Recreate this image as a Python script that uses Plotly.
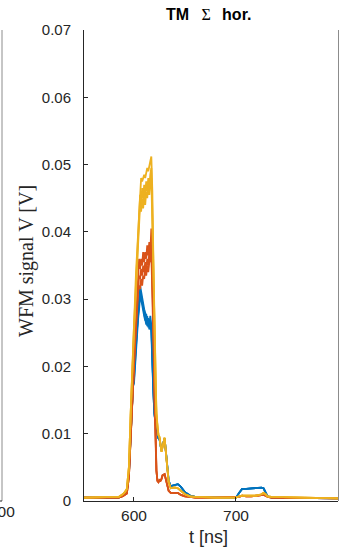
import plotly.graph_objects as go

# time axes (ns)
t_pre = [551, 570, 585, 589, 591, 593, 595, 597, 599]
t_peak = [600, 601, 602, 603, 604, 605, 606, 607, 608, 609, 610, 611, 612, 613, 614, 615, 616, 617, 618]
t_post = [619, 620, 621, 622, 623, 624, 625, 626, 627, 628, 630, 632, 634, 636, 640, 643, 646, 650, 655, 660,
          680, 700, 703, 706, 710, 715, 720, 725, 727, 729, 731, 735, 760, 800]

# blue series (V)
blue_pre = [0.0005, 0.0005, 0.0005, 0.0008, 0.0011, 0.0015, 0.0040, 0.0115, 0.0170]
blue_peak_1 = [0.019, 0.0215, 0.024, 0.026, 0.028, 0.030, 0.032, 0.031, 0.030, 0.0292, 0.0285, 0.028, 0.027, 0.0265, 0.027, 0.026, 0.0275, 0.026, 0.021]
blue_peak_2 = [0.018, 0.021, 0.0235, 0.0255, 0.0275, 0.029, 0.0312, 0.0305, 0.0295, 0.0288, 0.028, 0.0272, 0.0262, 0.0275, 0.0258, 0.027, 0.0255, 0.0265, 0.019]
blue_peak_3 = [0.0175, 0.020, 0.023, 0.025, 0.027, 0.0285, 0.0305, 0.030, 0.029, 0.0282, 0.0275, 0.0268, 0.0278, 0.026, 0.0272, 0.0255, 0.0268, 0.025, 0.018]
blue_post = [0.016, 0.013, 0.0115, 0.0105, 0.0098, 0.0093, 0.0092, 0.0082, 0.0075, 0.0082, 0.0093, 0.0062, 0.0030, 0.0022,
             0.0024, 0.0025, 0.0021, 0.0013, 0.0008, 0.0006, 0.0005, 0.0005, 0.0012, 0.0018, 0.0018, 0.0019, 0.0019,
             0.0020, 0.0019, 0.0013, 0.0007, 0.0005, 0.0005, 0.0004]

# orange series (V)
orange_pre = [0.0005, 0.0005, 0.0005, 0.0007, 0.0009, 0.0011, 0.0035, 0.0110, 0.0185]
orange_peak_1 = [0.021, 0.024, 0.027, 0.030, 0.033, 0.036, 0.0345, 0.036, 0.035, 0.037, 0.0355, 0.037, 0.036, 0.038, 0.0365, 0.0385, 0.037, 0.0405, 0.034]
orange_peak_2 = [0.0205, 0.0235, 0.0265, 0.0295, 0.032, 0.0335, 0.033, 0.0345, 0.0335, 0.035, 0.034, 0.0355, 0.0345, 0.036, 0.035, 0.037, 0.0355, 0.038, 0.032]
orange_peak_3 = [0.020, 0.023, 0.026, 0.029, 0.031, 0.032, 0.0315, 0.033, 0.032, 0.0335, 0.033, 0.0345, 0.0335, 0.035, 0.034, 0.0355, 0.036, 0.037, 0.030]
orange_post = [0.026, 0.015, 0.008, 0.0045, 0.0030, 0.0028, 0.0031, 0.0030, 0.0033, 0.0038, 0.0040, 0.0025, 0.0015, 0.0012,
               0.0012, 0.0012, 0.0009, 0.0007, 0.0006, 0.0005, 0.0005, 0.0005, 0.0006, 0.0008, 0.0007, 0.0007, 0.0008,
               0.0008, 0.0009, 0.0008, 0.0006, 0.0005, 0.0005, 0.0004]

# yellow series (V)
yellow_pre = [0.0005, 0.0005, 0.0006, 0.0010, 0.0013, 0.0018, 0.0050, 0.0140, 0.0235]
yellow_peak_1 = [0.027, 0.030, 0.034, 0.037, 0.040, 0.044, 0.047, 0.048, 0.0475, 0.048, 0.0485, 0.048, 0.049, 0.0495, 0.049, 0.050, 0.0505, 0.0512, 0.046]
yellow_peak_2 = [0.026, 0.029, 0.033, 0.036, 0.039, 0.0425, 0.0455, 0.044, 0.0465, 0.045, 0.047, 0.0455, 0.0475, 0.046, 0.048, 0.0465, 0.0485, 0.0495, 0.043]
yellow_peak_3 = [0.025, 0.028, 0.032, 0.035, 0.038, 0.041, 0.044, 0.043, 0.045, 0.0435, 0.0455, 0.044, 0.046, 0.045, 0.047, 0.0455, 0.0475, 0.048, 0.040]
yellow_post = [0.036, 0.024, 0.017, 0.013, 0.011, 0.0098, 0.0095, 0.0085, 0.0073, 0.0080, 0.0094, 0.0060, 0.0028, 0.0019,
               0.0020, 0.0019, 0.0015, 0.0010, 0.0007, 0.0006, 0.0005, 0.0005, 0.0007, 0.0008, 0.0008, 0.0008, 0.0008,
               0.0010, 0.0012, 0.0010, 0.0007, 0.0006, 0.0005, 0.0004]

x_ticks = [600, 700, 800]
y_ticks = [0, 0.01, 0.02, 0.03, 0.04, 0.05, 0.06, 0.07]
y_tick_labels = ["0", "0.01", "0.02", "0.03", "0.04", "0.05", "0.06", "0.07"]

BLUE, ORANGE, YELLOW = "#0072BD", "#D95319", "#EDB120"
AX = "#262626"

fig = go.Figure()
t_all = t_pre + t_peak + t_post
groups = [
    (BLUE, blue_pre, [blue_peak_1, blue_peak_2, blue_peak_3], blue_post),
    (ORANGE, orange_pre, [orange_peak_1, orange_peak_2, orange_peak_3], orange_post),
    (YELLOW, yellow_pre, [yellow_peak_1, yellow_peak_2, yellow_peak_3], yellow_post),
]
for color, pre, peaks, post in groups:
    for pk in peaks:
        fig.add_trace(go.Scatter(x=t_all, y=pre + pk + post, mode="lines",
                                 line=dict(color=color, width=1.8), showlegend=False,
                                 hoverinfo="skip"))

L, R, T, B = 84, 6, 30, 51
W, H = 344, 552
pw, ph = W - L - R, H - T - B


def px(x):
    return (x - L) / pw


def py(y):
    return (H - B - y) / ph


fig.update_layout(
    width=W, height=H,
    margin=dict(l=L, r=R, t=T, b=B, pad=0),
    paper_bgcolor="white", plot_bgcolor="white",
    font=dict(family="Liberation Sans, Arial, sans-serif", size=15, color=AX),
    xaxis=dict(range=[551, 800], tickvals=x_ticks, ticktext=[str(v) for v in x_ticks],
               ticks="inside", ticklen=4, tickcolor=AX, showline=True, linecolor=AX,
               linewidth=1, showgrid=False, zeroline=False, mirror=False,
               tickfont=dict(size=15.5, color=AX)),
    yaxis=dict(range=[0, 0.07], tickvals=y_ticks, ticktext=y_tick_labels,
               ticks="inside", ticklen=4, tickcolor=AX, showline=True, linecolor=AX,
               linewidth=1, showgrid=False, zeroline=False, mirror=False,
               ticklabelstandoff=9, tickfont=dict(size=15, color=AX)),
    shapes=[
        dict(type="line", xref="paper", yref="paper", x0=px(338.5), x1=px(338.5), y0=0, y1=1,
             line=dict(color="#8c8c8c", width=1)),
        dict(type="line", xref="paper", yref="paper", x0=px(2), x1=px(2), y0=0, y1=1,
             line=dict(color="#8c8c8c", width=1)),
        dict(type="line", xref="paper", yref="paper", x0=px(-2), x1=px(2), y0=0, y1=0,
             line=dict(color=AX, width=1)),
    ],
    annotations=[
        dict(text="<b>TM</b>\u2002\u00a0<span style=\"font-family:'Liberation Serif',serif\">\u03a3</span>\u2002\u2009<b>hor.</b>",
             xref="paper", yref="paper", x=px(208), y=py(14), showarrow=False,
             xanchor="center", yanchor="middle", font=dict(size=16, color="black")),
        dict(text="WFM signal V [V]", xref="paper", yref="paper", x=px(26), y=py(261),
             showarrow=False, textangle=-90, xanchor="center", yanchor="middle",
             font=dict(family="Liberation Serif, Times New Roman, serif", size=20, color=AX)),
        dict(text="t [ns]", xref="paper", yref="paper", x=px(208), y=py(537),
             showarrow=False, xanchor="center", yanchor="middle",
             font=dict(size=18, color=AX)),
        dict(text="800", xref="paper", yref="paper", x=px(2), y=py(511),
             showarrow=False, xanchor="center", yanchor="middle",
             font=dict(size=15.5, color=AX)),
    ],
)

fig.write_html("out.html", config={"displayModeBar": False},
               post_script="document.body.style.margin='0';document.body.style.overflow='hidden';")
